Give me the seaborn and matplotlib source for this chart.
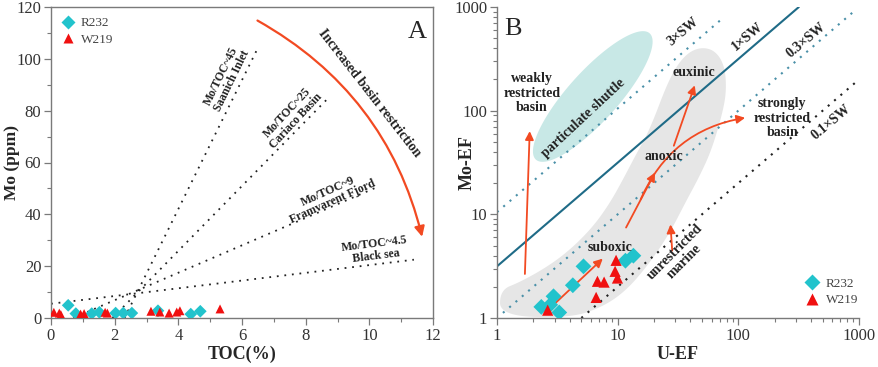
import numpy as np
import pandas as pd
import matplotlib
matplotlib.use("Agg")
import matplotlib.pyplot as plt
import seaborn as sns
from matplotlib.patches import Polygon, FancyArrowPatch
from matplotlib.ticker import MultipleLocator, LogLocator, FuncFormatter, NullFormatter

# ---- panel A data: TOC (%) vs Mo (ppm)
r232_toc = [0.54, 0.78, 1.28, 1.52, 2.03, 2.27, 2.54, 3.36, 4.39, 4.69]
r232_mo = [4.9, 1.7, 1.7, 2.2, 1.9, 1.9, 1.9, 2.8, 1.5, 2.6]
w219_toc = [0.09, 0.26, 0.31, 0.93, 1.04, 1.70, 1.77, 3.14, 3.42, 3.71, 3.95, 4.05, 5.31]
w219_mo = [2.2, 1.9, 1.3, 1.5, 1.7, 2.2, 1.9, 2.6, 2.3, 1.9, 2.3, 2.8, 3.5]

# ---- panel B data: U-EF vs Mo-EF
r232_uef = [2.33, 2.76, 2.94, 3.28, 4.25, 5.21, 11.6, 13.5]
r232_moef = [1.28, 1.34, 1.62, 1.13, 2.07, 3.15, 3.57, 3.99]
w219_uef = [2.63, 6.63, 6.80, 7.72, 9.70, 9.52, 9.96]
w219_moef = [1.19, 1.58, 2.26, 2.22, 3.60, 2.82, 2.43]

# Mo/TOC reference lines (TOC start, Mo start, TOC end, Mo end)
ref_names = ["Mo/TOC~45\nSaanich Inlet", "Mo/TOC~25\nCariaco Basin",
             "Mo/TOC~9\nFramvarent Fjord", "Mo/TOC~4.5\nBlack sea"]
ref_lines = [(2.31, 0, 6.45, 103), (1.93, 0, 8.76, 85.5), (0.7, 0, 10.3, 50.8), (0, 5.5, 11.4, 22.5)]
ref_label_pos = [(5.52, 92.4, 64), (7.56, 77.6, 47), (8.77, 46.8, 24), (10.18, 26.2, 7)]

# seawater Mo/U lines: label, ratio, U-EF range
sw_labels = ["3×SW", "1×SW", "0.3×SW", "0.1×SW"]
sw_ratio = [10.5, 3.15, 1.0, 0.2]
sw_xrange = [(1, 75), (1, 317), (1.12, 920), (5.0, 1000)]
sw_label_pos = [(34.8, 577), (120, 516), (365, 480), (587, 78)]

# particulate shuttle ellipse centre (U-EF, Mo-EF)
shuttle_center = (6.22, 137)
# gray band outline (U-EF, Mo-EF)
band_x = [1.06, 1.06, 1.55, 2.59, 4.02, 6.22, 8.60, 11.0, 14.4, 18.4, 27.0, 35.9, 47.8, 63.6,
          76.9, 79.8, 74.0, 60.0, 47.8, 37.3, 27.0, 18.4, 11.9, 7.53, 4.02]
band_y = [1.05, 1.86, 2.22, 3.10, 4.53, 7.54, 12.8, 21.4, 39.0, 65.0, 211, 344, 410, 384,
          275, 158, 94.8, 41.7, 23.4, 13.7, 6.6, 3.39, 1.86, 1.28, 1.0]

# red arrows in B: (x0, y0, x1, y1, rad)
b_arrows = [(1.70, 2.5, 1.87, 67.5, 0), (2.92, 1.33, 7.82, 3.9, 0), (11.45, 7.06, 20.9, 26.7, 0),
            (28.7, 43.3, 44.3, 186, 0), (15.2, 13.2, 120, 86.2, -0.28), (28.4, 4.2, 27.3, 8.49, 0)]

sns.set_theme(style="ticks")
plt.rcParams["font.family"] = ["Liberation Serif", "DejaVu Serif"]
plt.rcParams["mathtext.fontset"] = "stix"

CYAN = "#22c3cc"
RED = "#f01010"
ARROW = "#f24a22"
GRAY = "#7a7a7a"
TXT = "#333333"

fig = plt.figure(figsize=(8.79, 3.67), dpi=100)
axA = fig.add_axes([51 / 879, 49 / 367, 382 / 879, 311 / 367])
axB = fig.add_axes([497 / 879, 49 / 367, 362 / 879, 311 / 367])

pal = {"R232": CYAN, "W219": RED}
marks = {"R232": "D", "W219": "^"}

# ---------------- panel A ----------------
dfA = pd.DataFrame({
    "TOC": r232_toc + w219_toc,
    "Mo": r232_mo + w219_mo,
    "sample": ["R232"] * len(r232_toc) + ["W219"] * len(w219_toc),
})
for (x0, y0, x1, y1) in ref_lines:
    axA.plot([x0, x1], [y0, y1], color="#222222", lw=1.3, ls=(0, (1, 3.2)))
sns.scatterplot(data=dfA, x="TOC", y="Mo", hue="sample", style="sample", palette=pal,
                markers=marks, s=42, edgecolor="none", ax=axA, zorder=3)
for name, (x, y, rot) in zip(ref_names, ref_label_pos):
    axA.text(x, y, name, rotation=rot, ha="center", va="center", fontsize=8.5,
             fontweight="bold", color="#222222", linespacing=1.0, rotation_mode="anchor")
arrA = FancyArrowPatch((6.41, 115.3), (11.68, 30.3), connectionstyle="arc3,rad=-0.22",
                       arrowstyle="-|>,head_length=6,head_width=3", color=ARROW, lw=1.6)
axA.add_patch(arrA)
axA.text(10.02, 86.7, "Increased basin restriction", rotation=-52, ha="center", va="center",
         fontsize=10, fontweight="bold", color="#222222", rotation_mode="anchor")
axA.text(0.958, 0.92, "A", transform=axA.transAxes, ha="center", va="center", fontsize=19)

axA.set_xlim(0, 12)
axA.set_ylim(0, 120)
axA.xaxis.set_major_locator(MultipleLocator(2))
axA.xaxis.set_minor_locator(MultipleLocator(1))
axA.yaxis.set_major_locator(MultipleLocator(20))
axA.yaxis.set_minor_locator(MultipleLocator(10))
axA.set_xlabel("TOC(%)", fontsize=13, fontweight="bold")
axA.set_ylabel("Mo (ppm)", fontsize=12.5, fontweight="bold")
axA.yaxis.set_label_coords(-0.082, 0.5)
axA.xaxis.set_label_coords(0.5, -0.09)
sns.move_legend(axA, "upper left", title=None, frameon=False, fontsize=9.5,
                handletextpad=0.0, labelspacing=0.35, borderaxespad=0.0,
                bbox_to_anchor=(-0.005, 0.985), markerscale=1.1)
for t in axA.get_legend().get_texts():
    t.set_color("#444444")

# ---------------- panel B ----------------
axB.set_xscale("log")
axB.set_yscale("log")
axB.set_xlim(1, 1000)
axB.set_ylim(1, 1000)

# px per decade, used to shape the ellipse in screen proportions
pxx, pxy = 362 / 3, 311 / 3
t = np.linspace(0, 2 * np.pi, 120)
a, b, ang = 85, 25, np.deg2rad(48)
ex = a * np.cos(t) * np.cos(ang) - b * np.sin(t) * np.sin(ang)
ey = a * np.cos(t) * np.sin(ang) + b * np.sin(t) * np.cos(ang)
ell_x = 10 ** (np.log10(shuttle_center[0]) + ex / pxx)
ell_y = 10 ** (np.log10(shuttle_center[1]) + ey / pxy)
axB.add_patch(Polygon(np.column_stack([ell_x, ell_y]), closed=True, fc="#c8e8e6", ec="none", zorder=0))

# smooth the band outline (corner cutting in log space)
pts = np.column_stack([np.log10(band_x), np.log10(band_y)])
for _ in range(4):
    nxt = np.roll(pts, -1, axis=0)
    q = np.empty((2 * len(pts), 2))
    q[0::2] = 0.75 * pts + 0.25 * nxt
    q[1::2] = 0.25 * pts + 0.75 * nxt
    pts = q
axB.add_patch(Polygon(10 ** pts, closed=True, fc="#e6e6e6", ec="none", zorder=0))

for lab, r, (x0, x1) in zip(sw_labels, sw_ratio, sw_xrange):
    xs = np.array([x0, x1])
    if lab == "1×SW":
        axB.plot(xs, r * xs, color="#1f6b87", lw=1.5, zorder=1)
    elif lab == "0.1×SW":
        axB.plot(xs, r * xs, color="#222222", lw=1.5, ls=(0, (1, 3)), zorder=1)
    else:
        axB.plot(xs, r * xs, color="#4a90a8", lw=1.5, ls=(0, (1, 3)), zorder=1)
for lab, (x, y) in zip(sw_labels, sw_label_pos):
    axB.text(x, y, lab, rotation=40, ha="center", va="center", fontsize=10,
             fontweight="bold", color="#222222")

for (x0, y0, x1, y1, rad) in b_arrows:
    axB.add_patch(FancyArrowPatch((x0, y0), (x1, y1), connectionstyle=f"arc3,rad={rad}",
                                  arrowstyle="-|>,head_length=5,head_width=2.5",
                                  color=ARROW, lw=1.3, zorder=2))

dfB = pd.DataFrame({
    "UEF": r232_uef + w219_uef,
    "MoEF": r232_moef + w219_moef,
    "sample": ["R232"] * len(r232_uef) + ["W219"] * len(w219_uef),
})
sns.scatterplot(data=dfB, x="UEF", y="MoEF", hue="sample", style="sample", palette=pal,
                markers=marks, s=65, edgecolor="none", ax=axB, zorder=3)

bold = dict(fontsize=10, fontweight="bold", color="#222222", ha="center", va="center",
            linespacing=1.15)
axB.text(1.94, 147, "weakly\nrestricted\nbasin", **bold)
axB.text(5.17, 84.3, "particulate shuttle", rotation=43, **bold)
axB.text(42.6, 232, "euxinic", **bold)
axB.text(231, 84.3, "strongly\nrestricted\nbasin", **bold)
axB.text(24.1, 35.9, "anoxic", **bold)
axB.text(8.6, 4.81, "suboxic", **bold)
axB.text(32.6, 3.9, "unrestricted\nmarine", rotation=45, **bold)
axB.text(0.02, 0.93, "B", transform=axB.transAxes, ha="left", va="center", fontsize=19)

axB.xaxis.set_major_locator(LogLocator(base=10))
axB.yaxis.set_major_locator(LogLocator(base=10))
axB.xaxis.set_minor_locator(LogLocator(base=10, subs=np.arange(2, 10)))
axB.yaxis.set_minor_locator(LogLocator(base=10, subs=np.arange(2, 10)))
fmt = FuncFormatter(lambda v, p: f"{v:g}")
axB.xaxis.set_major_formatter(fmt)
axB.yaxis.set_major_formatter(fmt)
axB.xaxis.set_minor_formatter(NullFormatter())
axB.yaxis.set_minor_formatter(NullFormatter())
axB.set_xlabel("U-EF", fontsize=13, fontweight="bold")
axB.set_ylabel("Mo-EF", fontsize=13, fontweight="bold")
axB.yaxis.set_label_coords(-0.06, 0.5)
axB.xaxis.set_label_coords(0.5, -0.09)
sns.despine(ax=axB)
sns.move_legend(axB, "lower right", title=None, frameon=False, fontsize=9.5,
                handletextpad=0.0, labelspacing=0.3, bbox_to_anchor=(1.03, 0.0),
                markerscale=1.0)
for t in axB.get_legend().get_texts():
    t.set_color("#444444")

for ax in (axA, axB):
    for sp in ax.spines.values():
        sp.set_color(GRAY)
        sp.set_linewidth(1.0)
    ax.tick_params(which="major", length=5, width=0.9, color=GRAY, labelsize=12,
                   labelcolor=TXT, pad=2)
    ax.tick_params(which="minor", length=3, width=0.8, color=GRAY)

fig.savefig("out.png", dpi=100)
